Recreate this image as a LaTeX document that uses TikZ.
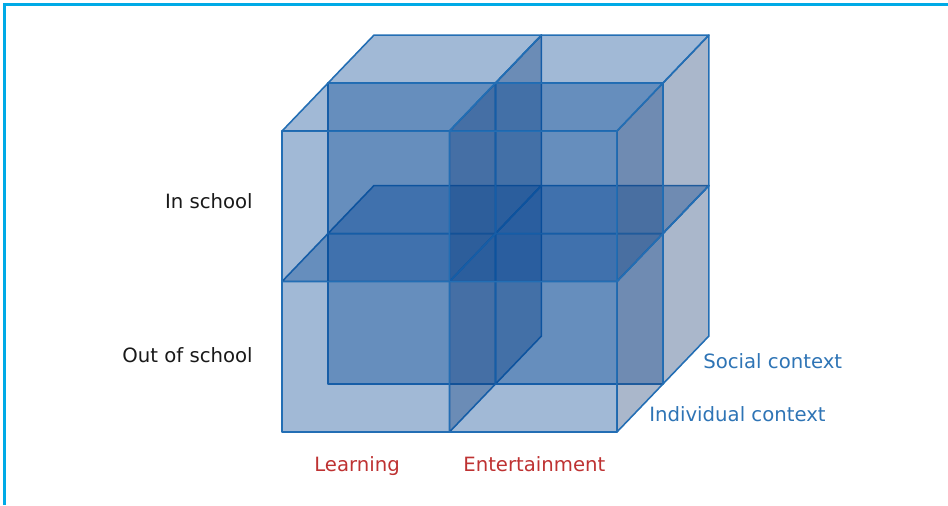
\documentclass[tikz,border=0pt]{standalone}
\usepackage{fontspec}
\setmainfont{DejaVu Sans}
\usetikzlibrary{positioning}
\definecolor{framecyan}{RGB}{0,170,230}
\definecolor{cubeblue}{RGB}{0,66,145}
\definecolor{sideblue}{RGB}{25,60,115}
\definecolor{edgeblue}{RGB}{35,110,180}
\definecolor{ctxblue}{RGB}{46,116,181}
\definecolor{actred}{RGB}{190,50,50}
\definecolor{settinggrey}{RGB}{25,25,25}
\tikzset{
    cubescene/.style={x=0.02cm, y=-0.02cm},
    cubeface/.style={fill=cubeblue, fill opacity=0.37, draw=edgeblue, line width=0.9pt, line join=round},
    sideface/.style={cubeface, fill=sideblue},
    axislabel/.style={font=\fontsize{11.2}{13}\selectfont, inner sep=0pt, text height=1.35ex, text depth=0pt},
    setting/.style={axislabel, text=settinggrey, anchor=east},
    activity/.style={axislabel, text=actred, anchor=west},
    ctxlabel/.style={axislabel, text=ctxblue, anchor=west},
}
\begin{document}
\begin{tikzpicture}[cubescene]
    \useasboundingbox (0,0) rectangle (948,505);
    \draw[framecyan, line width=1.6pt] (4.3,505) -- (4.3,4.5) -- (948,4.5);

    % 2 x 2 x 2 cubes, back layer first
    \begin{scope}[shift={(282,432)}, x={(6.7cm,0cm)}, y={(0cm,6.02cm)}, z={(1.84cm,1.92cm)}]
        \foreach \k in {0.5,0} {
            \foreach \j in {0,0.5} {
                \foreach \i in {0,0.5} {
                    \begin{scope}[shift={(\i,\j,\k)}]
                        \filldraw[cubeface] (0,0,0) -- (0.5,0,0) -- (0.5,0.5,0) -- (0,0.5,0) -- cycle;
                        \filldraw[cubeface] (0,0.5,0) -- (0.5,0.5,0) -- (0.5,0.5,0.5) -- (0,0.5,0.5) -- cycle;
                        \filldraw[sideface] (0.5,0,0) -- (0.5,0,0.5) -- (0.5,0.5,0.5) -- (0.5,0.5,0) -- cycle;
                    \end{scope}
                }
            }
        }
    \end{scope}

    \node[setting]  (inschool)   at (253,202.5) {In school};
    \node[setting]  (outschool)  at (253,356.5) {Out of school};
    \node[activity] (learning)   at (314,465.5) {Learning};
    \node[activity] (entertain)  at (463,465.5) {Entertainment};
    \node[ctxlabel] (social)     at (703,362)   {Social context};
    \node[ctxlabel] (individual) at (649,415.5) {Individual context};
\end{tikzpicture}
\end{document}
